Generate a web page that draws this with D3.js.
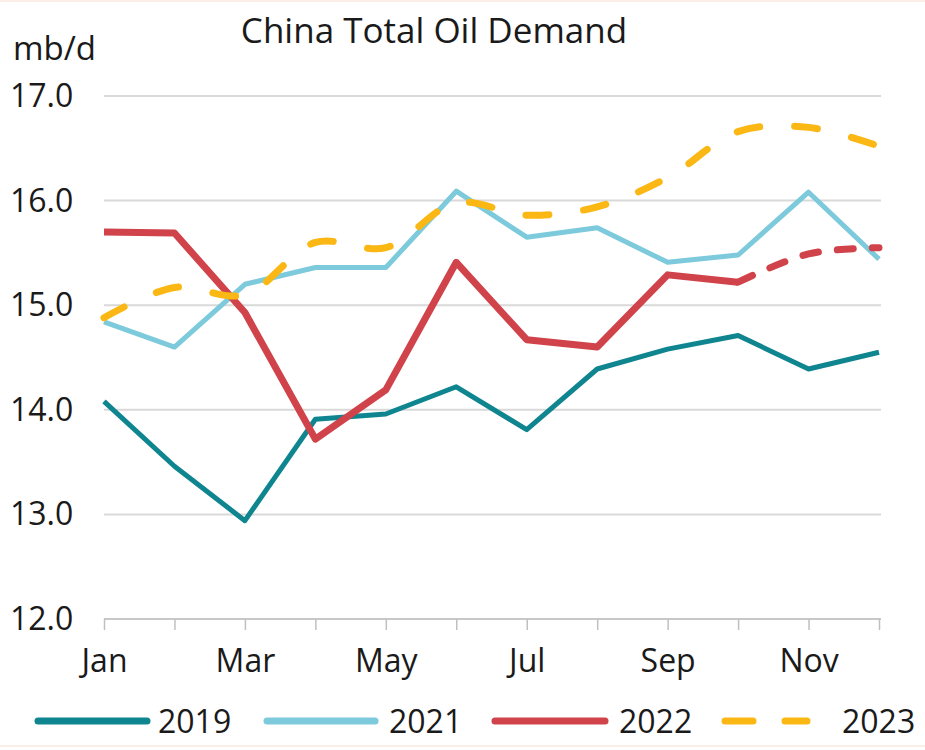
<!DOCTYPE html>
<html>
<head>
<meta charset="utf-8">
<script src="https://cdn.jsdelivr.net/npm/d3@7"></script>
<style>
  body { margin: 0; background: #fff; }
  text { font-family: "Open Sans", "Noto Sans", sans-serif; fill: #1a1a1a; }
</style>
</head>
<body>
<svg></svg>
<script>
var months = ["Jan","Feb","Mar","Apr","May","Jun","Jul","Aug","Sep","Oct","Nov","Dec"]
var yTicks = [12, 13, 14, 15, 16, 17]

var v2019 = [14.08, 13.46, 12.94, 13.91, 13.96, 14.22, 13.81, 14.39, 14.58, 14.71, 14.39, 14.55]
var v2021 = [14.84, 14.60, 15.20, 15.36, 15.36, 16.09, 15.65, 15.74, 15.41, 15.48, 16.08, 15.44]
var v2022 = [15.70, 15.69, 14.93, 13.72, 14.19, 15.41, 14.67, 14.60, 15.29, 15.22, 15.49, 15.55]
var v2023 = [14.88, 15.17, 15.10, 15.60, 15.55, 15.98, 15.86, 15.94, 16.22, 16.66, 16.70, 16.52]
// 2022 is actual up to Oct, forecast after
var actual2022 = 10

var screen = {width: 925, height: 750}

var svg = d3.select("svg")
            .attr("width", screen.width)
            .attr("height", screen.height)

// faint frame lines of the original screenshot
svg.append("line").attr("x1", 0).attr("x2", 925).attr("y1", 1).attr("y2", 1)
   .attr("stroke", "#fbeee6").attr("stroke-width", 2)
svg.append("line").attr("x1", 0).attr("x2", 925).attr("y1", 746).attr("y2", 746)
   .attr("stroke", "#fbeee6").attr("stroke-width", 2)

var xScale = d3.scalePoint()
               .domain(months)
               .range([104, 879])

var yScale = d3.scaleLinear()
               .domain([12, 17])
               .range([619, 96])

// gridlines
svg.append("g")
   .selectAll("line")
   .data(yTicks.slice(1))
   .enter()
   .append("line")
   .attr("x1", 104)
   .attr("x2", 881)
   .attr("y1", function(d){return yScale(d);})
   .attr("y2", function(d){return yScale(d);})
   .attr("stroke", "#d9d9d9")
   .attr("stroke-width", 2)

// y labels
svg.append("g")
   .selectAll("text")
   .data(yTicks)
   .enter()
   .append("text")
   .attr("x", 10)
   .attr("y", function(d){return yScale(d) + 11;})
   .attr("font-size", 32)
   .text(function(d){return d.toFixed(1);})

// x axis
var xAxis = d3.axisBottom(xScale)
              .tickSize(11)
              .tickFormat(function(d,i){ return i % 2 == 0 ? d : ""; })
var gx = svg.append("g")
            .attr("transform", "translate(0,619)")
            .call(xAxis)
gx.select(".domain").attr("stroke", "#c8c8c8").attr("stroke-width", 2)
  .attr("d", "M" + xScale("Jan") + ",0H" + (xScale("Dec") + 2))
gx.selectAll(".tick line").attr("stroke", "#c0c0c0").attr("stroke-width", 1.5)
gx.selectAll(".tick text")
  .attr("font-size", 32)
  .attr("y", 53)
  .attr("dy", 0)
  .attr("fill", "#1a1a1a")
  .style("font-family", "'Open Sans', 'Noto Sans', sans-serif")

var straight = d3.line()
                 .x(function(d){return xScale(d.m);})
                 .y(function(d){return yScale(d.v);})

var smooth = d3.line()
               .x(function(d){return xScale(d.m);})
               .y(function(d){return yScale(d.v);})
               .curve(d3.curveCatmullRom.alpha(0.5))

var pts = function(arr){
  return arr.map(function(v,i){return {m: months[i], v: v};})
}

var drawLine = function(data, gen, color, w, dash){
  svg.append("path")
     .datum(data)
     .attr("d", gen)
     .attr("fill", "none")
     .attr("stroke", color)
     .attr("stroke-width", w)
     .attr("stroke-linejoin", "round")
     .attr("stroke-linecap", dash ? "round" : "butt")
     .attr("stroke-dasharray", dash || null)
}

drawLine(pts(v2019), straight, "#0f8590", 5)
drawLine(pts(v2021), straight, "#7ccadb", 5)
drawLine(pts(v2022).slice(0, actual2022), straight, "#d0434a", 7)
drawLine(pts(v2022).slice(actual2022 - 1), smooth, "#d0434a", 7, "16,19")
drawLine(pts(v2023), smooth, "#fbb714", 7, "23,35")

// title
svg.append("text")
   .attr("x", 434)
   .attr("y", 43)
   .attr("text-anchor", "middle")
   .attr("font-size", 35)
   .text("China Total Oil Demand")

svg.append("text")
   .attr("x", 13)
   .attr("y", 60)
   .attr("font-size", 33)
   .text("mb/d")

// legend
var legend = [
  {name: "2019", color: "#0f8590", x1: 35, x2: 150, tx: 158, dash: null},
  {name: "2021", color: "#7ccadb", x1: 264, x2: 378, tx: 389, dash: null},
  {name: "2022", color: "#d0434a", x1: 492, x2: 608, tx: 619, dash: null},
  {name: "2023", color: "#fbb714", x1: 722, x2: 810, tx: 842, dash: "28,32"}
]
var lg = svg.append("g")
lg.selectAll("line")
  .data(legend)
  .enter()
  .append("line")
  .attr("x1", function(d){return d.x1 + 3;})
  .attr("x2", function(d){return d.x2 - 3;})
  .attr("y1", 721)
  .attr("y2", 721)
  .attr("stroke", function(d){return d.color;})
  .attr("stroke-width", 7)
  .attr("stroke-linecap", "round")
  .attr("stroke-dasharray", function(d){return d.dash;})
lg.selectAll("text")
  .data(legend)
  .enter()
  .append("text")
  .attr("x", function(d){return d.tx;})
  .attr("y", 733)
  .attr("font-size", 32)
  .text(function(d){return d.name;})
</script>
</body>
</html>
